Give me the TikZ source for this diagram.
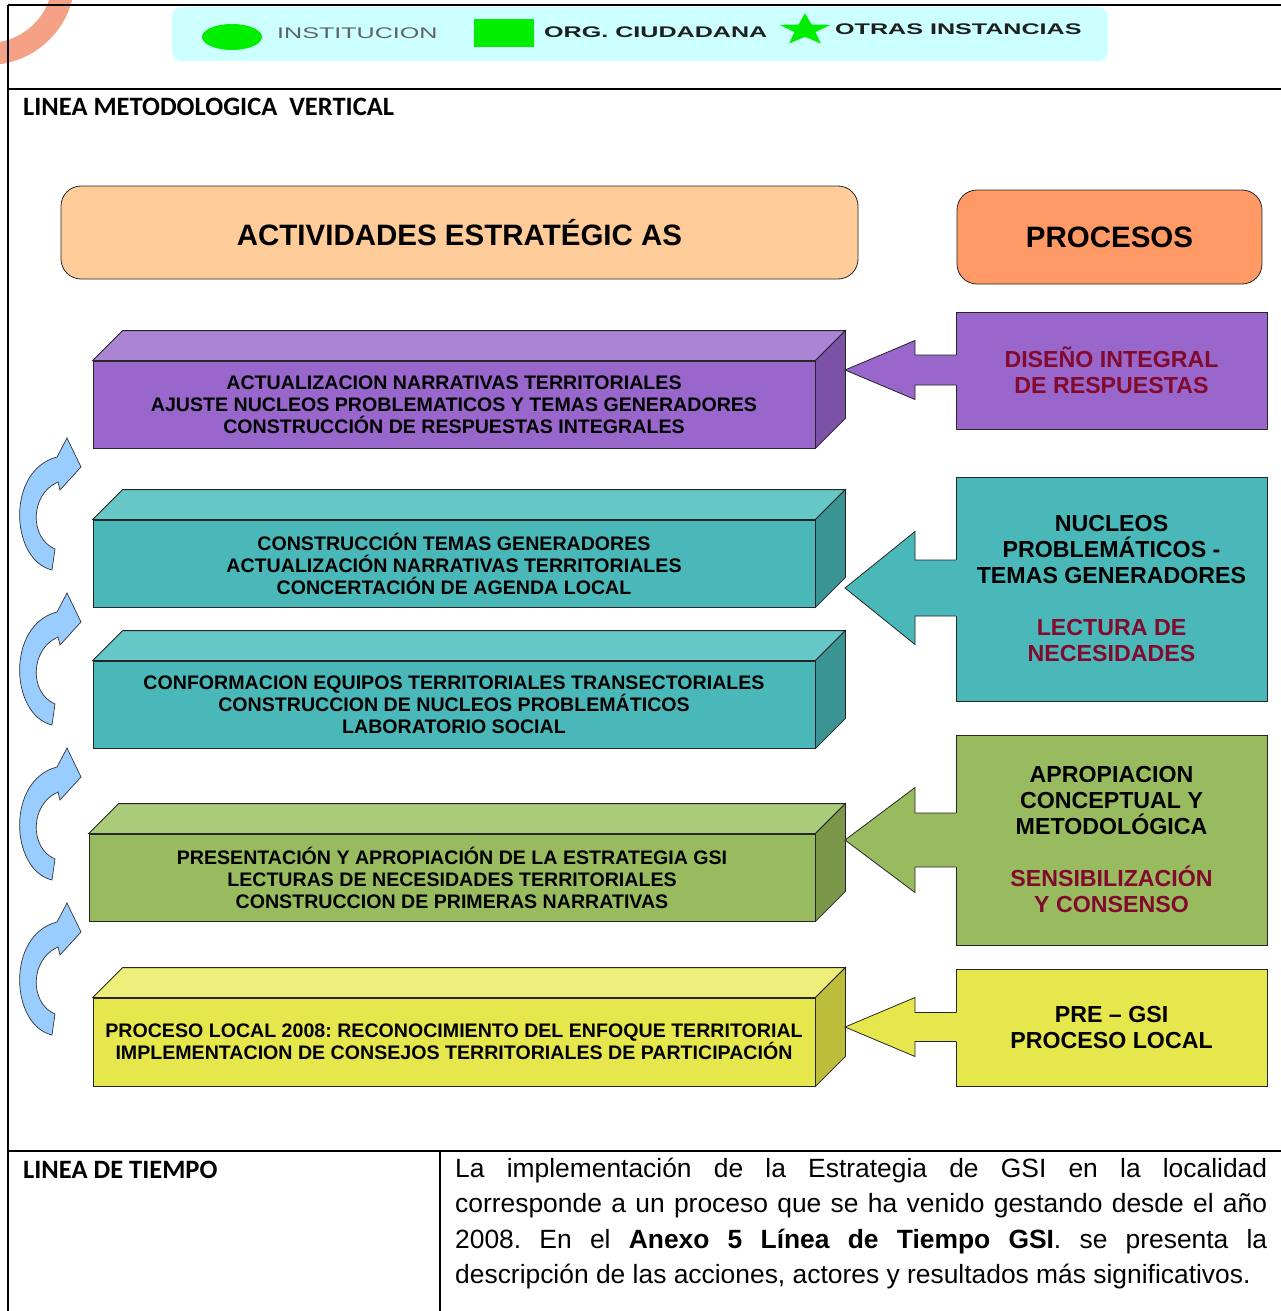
\documentclass[tikz,border=0pt]{standalone}
\usepackage{fontspec}
\setmainfont{Liberation Sans}
\newfontfamily\carl{Carlito}
\newfontfamily\widefont[FakeStretch=1.63]{Liberation Sans}
\definecolor{lcyan}{HTML}{CCFFFF}
\definecolor{lgreen}{HTML}{00EE00}
\definecolor{peach}{HTML}{FFCC99}
\definecolor{orng}{HTML}{FF9966}
\definecolor{salm}{HTML}{F29170}
\definecolor{purF}{HTML}{9966CC}
\definecolor{purT}{HTML}{AB84D6}
\definecolor{purS}{HTML}{7B52A6}
\definecolor{teaF}{HTML}{4AB8B8}
\definecolor{teaT}{HTML}{66C8C6}
\definecolor{teaS}{HTML}{3A9494}
\definecolor{grnF}{HTML}{99BB5F}
\definecolor{grnT}{HTML}{AACB7A}
\definecolor{grnS}{HTML}{7A974A}
\definecolor{yelF}{HTML}{E6E64D}
\definecolor{yelT}{HTML}{EEEE7A}
\definecolor{yelS}{HTML}{BDBD3B}
\definecolor{dred}{HTML}{820A2C}
\definecolor{barr}{HTML}{99CCFF}
\newcommand\mycube[3]{%
  \draw[face, fill=#2] (#1.north west) -- ++(30,-30) -- ([shift={(30,-30)}]#1.north east) -- (#1.north east) -- cycle;
  \draw[face, fill=#3] (#1.north east) -- ++(30,-30) -- ([shift={(30,-30)}]#1.south east) -- (#1.south east) -- cycle;}
\newcommand\blockarr[4]{% tip y, head half, shaft half, colour
  \fill[#4] (845,#1) -- (915,#1-#2) -- (915,#1-#3) -- (957.5,#1-#3) -- (957.5,#1+#3) -- (915,#1+#3) -- (915,#1+#2) -- cycle;
  \draw[face] (956,#1-#3) -- (915,#1-#3) -- (915,#1-#2) -- (845,#1) -- (915,#1+#2) -- (915,#1+#3) -- (956,#1+#3);}
\newcommand\curarr[1]{%
  \begin{scope}[shift={(0,#1)}]
  \draw[draw=black!80, line width=0.7pt, fill=barr] (52,132) .. controls (10,122) and (6,32) .. (57,19) -- (67,0) -- (81,29) -- (60,52) -- (58,44) .. controls (30,56) and (29,100) .. (55,111) -- cycle;
  \end{scope}}
\begin{document}
\frenchspacing
\begin{tikzpicture}[x=1pt,y=-1pt,
  frame/.style={line width=2pt, black},
  face/.style={draw=black!85, line width=0.8pt},
  front/.style={face, inner sep=0pt, align=center, font=\bfseries\fontsize{19.6}{22}\selectfont},
  pbox/.style={face, inner sep=0pt, minimum width=311pt, align=center, font=\bfseries\fontsize{23.2}{26}\selectfont},
  hbox/.style={face, rounded corners=20pt, inner sep=0pt, font=\bfseries\fontsize{29.5}{34}\selectfont},
  legtxt/.style={anchor=base west, inner sep=0pt, font=\widefont\fontsize{15.4}{18}\selectfont},
  title/.style={anchor=base west, inner sep=0pt, font=\carl\bfseries\fontsize{26.5}{30}\selectfont}]
\useasboundingbox (0,0) rectangle (1281,1311);
% corner arc
\draw[line width=22pt, salm, opacity=0.85] (-12,-22) circle (76pt);
% frame
\draw[frame] (8,5) -- (1281,5);
\draw[frame] (8,5) -- (8,1311);
\draw[frame] (8,89) -- (1281,89);
\draw[frame] (8,1151) -- (1281,1151);
\draw[frame] (440,1151) -- (440,1311);
% legend
\fill[lcyan, rounded corners=10pt] (172,7) rectangle (1108,61);
\fill[lgreen] (232,37) ellipse (30pt and 13pt);
\fill[lgreen] (474,19) rectangle (534,47);
\begin{scope}[shift={(805,30)}, yscale=0.62]
\fill[lgreen] (-90:27) -- (-54:11) -- (-18:27) -- (18:11) -- (54:27) -- (90:11) -- (126:27) -- (162:11) -- (198:27) -- (234:11) -- cycle;
\end{scope}
\node[legtxt, text=black!62] (l1) at (277,38.5) {INSTITUCION};
\node[legtxt, text=black!88, font=\widefont\bfseries\fontsize{15.4}{18}\selectfont] (l2) at (544,37.5) {ORG. CIUDADANA};
\node[legtxt, text=black!88, font=\widefont\bfseries\fontsize{15.4}{18}\selectfont] (l3) at (835,34.5) {OTRAS INSTANCIAS};
% titles
\node[title] (t1) at (23,116) {LINEA METODOLOGICA~~VERTICAL};
\node[title] (t2) at (23,1178) {LINEA DE TIEMPO};
% headers
\node[hbox, fill=peach, minimum width=797pt, minimum height=93pt] (h1) at (459.5,232.5) {ACTIVIDADES ESTRATÉGIC AS};
\node[hbox, fill=orng, minimum width=305pt, minimum height=94pt] (h2) at (1109.5,237) {PROCESOS};
% cubes
\node[front, fill=purF, minimum width=722pt, minimum height=87pt] (c1) at (454,404.5)
  {ACTUALIZACION NARRATIVAS TERRITORIALES\\AJUSTE NUCLEOS PROBLEMATICOS Y TEMAS GENERADORES\\CONSTRUCCIÓN DE RESPUESTAS INTEGRALES};
\mycube{c1}{purT}{purS}
\node[front, fill=teaF, minimum width=722pt, minimum height=87pt] (c2) at (454,563.5)
  {CONSTRUCCIÓN TEMAS GENERADORES\\ACTUALIZACIÓN NARRATIVAS TERRITORIALES\\CONCERTACIÓN DE AGENDA LOCAL};
\mycube{c2}{teaT}{teaS}
\node[front, fill=teaF, minimum width=722pt, minimum height=87pt] (c3) at (454,704.5)
  {CONFORMACION EQUIPOS TERRITORIALES TRANSECTORIALES\\CONSTRUCCION DE NUCLEOS PROBLEMÁTICOS\\LABORATORIO SOCIAL};
\mycube{c3}{teaT}{teaS}
\node[front, fill=grnF, minimum width=726pt, minimum height=87pt] (c4) at (452,877.5)
  {PRESENTACIÓN Y APROPIACIÓN DE LA ESTRATEGIA GSI\\LECTURAS DE NECESIDADES TERRITORIALES\\CONSTRUCCION DE PRIMERAS NARRATIVAS};
\mycube{c4}{grnT}{grnS}
\node[front, fill=yelF, minimum width=722pt, minimum height=88pt] (c5) at (454,1042)
  {PROCESO LOCAL 2008: RECONOCIMIENTO DEL ENFOQUE TERRITORIAL\\IMPLEMENTACION DE CONSEJOS TERRITORIALES DE PARTICIPACIÓN};
\mycube{c5}{yelT}{yelS}
% process boxes
\node[pbox, fill=purF, minimum height=117pt, text=dred] (p1) at (1111.5,370.5) {DISEÑO INTEGRAL\\DE RESPUESTAS};
\node[pbox, fill=teaF, minimum height=224pt] (p2) at (1111.5,589) {NUCLEOS\\PROBLEMÁTICOS -\\TEMAS GENERADORES\\[26pt]\textcolor{dred}{LECTURA DE}\\\textcolor{dred}{NECESIDADES}};
\node[pbox, fill=grnF, minimum height=210pt] (p3) at (1111.5,840) {APROPIACION\\CONCEPTUAL Y\\METODOLÓGICA\\[26pt]\textcolor{dred}{SENSIBILIZACIÓN}\\\textcolor{dred}{Y CONSENSO}};
\node[pbox, fill=yelF, minimum height=117pt] (p4) at (1111.5,1027.5) {PRE – GSI\\PROCESO LOCAL};
% block arrows
\blockarr{370}{29.5}{15}{purF}
\blockarr{588}{56.5}{28}{teaF}
\blockarr{840}{52.5}{27}{grnF}
\blockarr{1027}{29.5}{14.5}{yelF}
% curved arrows
\curarr{438}
\curarr{593}
\curarr{748}
\curarr{903}
% paragraph
\node[anchor=north west, inner sep=0pt, text width=812pt, align=left, font=\fontsize{26.4}{35.3}\selectfont] (para) at (455,1158)
  {\spaceskip=0pt\xspaceskip=0pt\frenchspacing\noindent
   \makebox[812pt][s]{La implementación de la Estrategia de GSI en la localidad}\\
   \makebox[812pt][s]{corresponde a un proceso que se ha venido gestando desde el año}\\
   \makebox[812pt][s]{2008. En el \textbf{Anexo 5 Línea de Tiempo GSI}. se presenta la}\\
   descripción de las acciones, actores y resultados más significativos.};
\end{tikzpicture}
\end{document}
